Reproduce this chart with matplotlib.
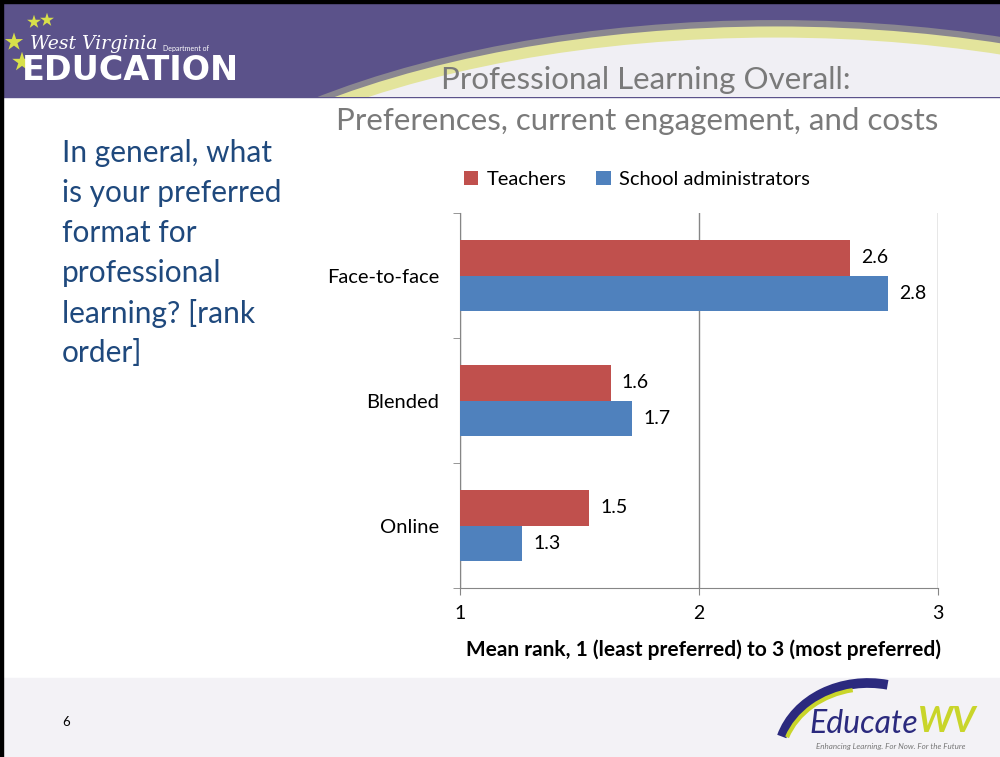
import numpy as np
import matplotlib
matplotlib.use("Agg")
import matplotlib.pyplot as plt
from matplotlib.patches import Rectangle, Ellipse, Arc

plt.rcParams['font.family'] = ['Lato', 'DejaVu Sans']

# data
categories = ["Face-to-face", "Blended", "Online"]
teachers = [2.63, 1.63, 1.54]
admins = [2.79, 1.72, 1.26]
series_names = ["Teachers", "School administrators"]
x_ticks = [1, 2, 3]

title_lines = ["Professional Learning Overall:",
               "Preferences, current engagement, and costs"]
question_lines = ["In general, what", "is your preferred", "format for",
                  "professional", "learning? [rank", "order]"]

RED = "#c0504d"
BLUE = "#4f81bd"

fig = plt.figure(figsize=(10, 7.57), dpi=100)

# --- slide background (pixel coordinates) ---
bg = fig.add_axes([0, 0, 1, 1], zorder=-5)
bg.set_xlim(0, 1000)
bg.set_ylim(757, 0)
bg.axis("off")

bg.add_patch(Rectangle((0, 0), 1000, 97, color="#5b528a", zorder=1))
# light swoosh in header
clip = Rectangle((0, 0), 1000, 97, transform=bg.transData)
sw_dark = Ellipse((775, 335), 1380, 616, facecolor="none", edgecolor="#8a8790",
                  lw=10, zorder=2)
sw_yel = Ellipse((775, 335), 1370, 606, facecolor="#f0eff4", edgecolor="#e3e49c",
                 lw=8, zorder=3)
for p in (sw_dark, sw_yel):
    bg.add_patch(p)
    p.set_clip_path(clip)

# footer band
bg.add_patch(Rectangle((0, 678), 1000, 79, color="#f3f2f6", zorder=1))
# black slide frame (top / left)
bg.add_patch(Rectangle((0, 0), 1000, 3, color="black", zorder=6))
bg.add_patch(Rectangle((0, 0), 3, 757, color="black", zorder=6))

# WV Department of Education logo
bg.scatter([34, 47, 14, 22], [22, 20, 42, 62], s=[110, 110, 190, 220],
           marker="*", color="#d8e04a", zorder=5, linewidths=0)
bg.text(30, 44, "West Virginia", color="white", fontsize=13.5, style="italic",
        family=["DejaVu Serif"], va="center", zorder=5)
bg.text(163, 48, "Department of", color="white", fontsize=5, va="center",
        zorder=5)
bg.text(22, 71, "EDUCATION", color="white", fontsize=24, weight="bold",
        family=["DejaVu Sans"], va="center", zorder=5)

# title
bg.text(851, 80, title_lines[0], color="#7a7a7a", fontsize=22.5, ha="right",
        va="center", zorder=5)
bg.text(938, 121, title_lines[1], color="#7a7a7a", fontsize=22.5, ha="right",
        va="center", zorder=5)

# question text
for i, line in enumerate(question_lines):
    bg.text(62, 153 + 40 * i, line, color="#1f497d", fontsize=21.5,
            va="center", zorder=5)

# page number
bg.text(62, 722, "6", fontsize=9.5, va="center", zorder=5)

# EducateWV logo
bg.add_patch(Arc((868, 758), 180, 150, theta1=194, theta2=285, lw=7,
                 color="#2b2a7e", zorder=5))
bg.add_patch(Arc((868, 762), 172, 146, theta1=197, theta2=258, lw=3,
                 color="#c9d52a", zorder=5))
bg.text(918, 724, "Educate", color="#2b2a7e", fontsize=23, style="italic",
        ha="right", va="center", zorder=6)
bg.text(918, 722, "WV", color="#c9d52a", fontsize=26, style="italic",
        weight="bold", va="center", zorder=6)
bg.text(816, 747, "Enhancing Learning. For Now. For the Future", color="#777777",
        fontsize=5.8, style="italic", va="center", zorder=6)

# --- chart ---
ax = fig.add_axes([0.46, 0.2232, 0.478, 0.4954])
ax.patch.set_alpha(0)
y = np.arange(len(categories))
h = 0.284

b1 = ax.barh(y - h / 2, np.array(teachers) - 1, left=1, height=h, color=RED,
             label=series_names[0], zorder=3)
b2 = ax.barh(y + h / 2, np.array(admins) - 1, left=1, height=h, color=BLUE,
             label=series_names[1], zorder=3)

for bars, vals in ((b1, teachers), (b2, admins)):
    for bar, v in zip(bars, vals):
        ax.annotate(f"{v:.1f}", (v, bar.get_y() + bar.get_height() / 2),
                    xytext=(8, 0), textcoords="offset points", va="center",
                    fontsize=14)

ax.set_xlim(1, 3)
ax.set_ylim(len(categories) - 0.5, -0.5)
ax.set_xticks(x_ticks)
ax.set_xticklabels([str(t) for t in x_ticks], fontsize=14)
ax.set_yticks(y)
ax.set_yticklabels(categories, fontsize=14.5)
ax.set_yticks(np.arange(len(categories) + 1) - 0.5, minor=True)
ax.tick_params(axis="y", which="major", length=0, pad=15)
ax.tick_params(axis="y", which="minor", length=5, color="#868686")
ax.tick_params(axis="x", length=5, color="#868686", pad=7)

ax.grid(axis="x", color="#868686", lw=1, zorder=0)
for s in ("top", "right"):
    ax.spines[s].set_visible(False)
for s in ("left", "bottom"):
    ax.spines[s].set_color("#868686")

ax.set_xlabel("Mean rank, 1 (least preferred) to 3 (most preferred)",
              fontsize=15, weight="bold")
ax.xaxis.set_label_coords(0.51, -0.138)

ax.legend(loc="center", bbox_to_anchor=(0.37, 1.09), ncol=2,
          frameon=False, fontsize=14.5, handlelength=0.7, handleheight=0.7,
          handletextpad=0.4, columnspacing=1.5)

fig.savefig("out.png", dpi=100)
